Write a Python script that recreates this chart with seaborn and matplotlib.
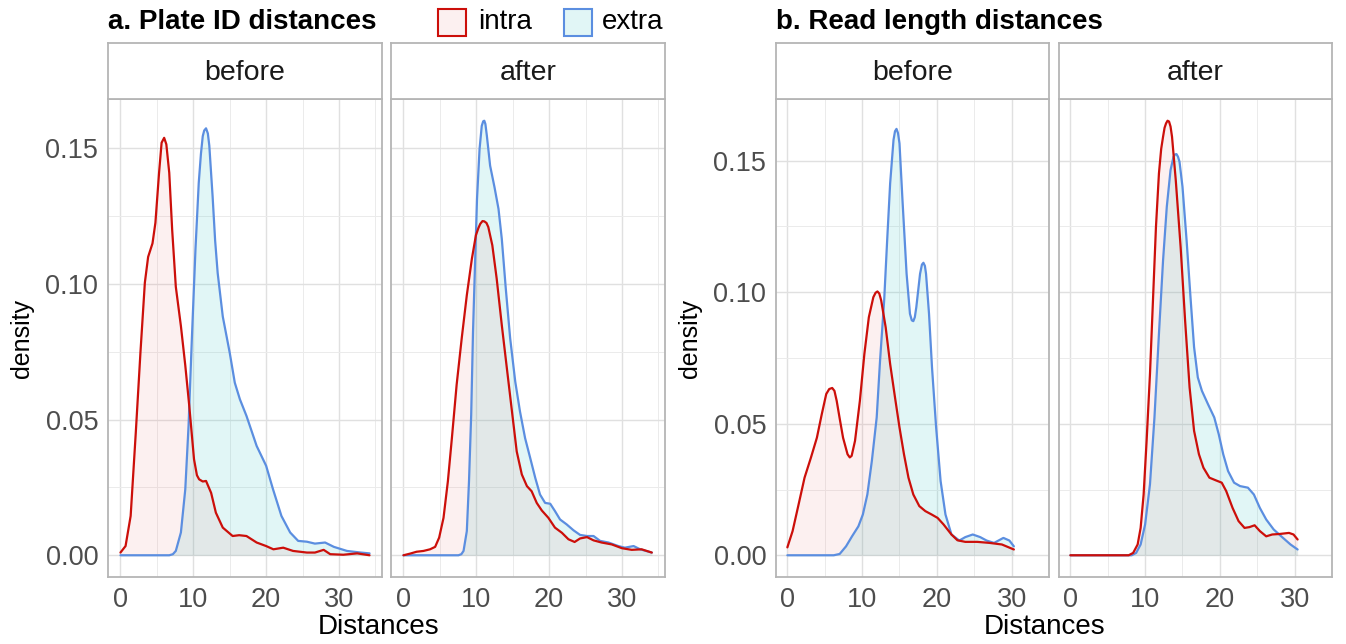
import numpy as np
import pandas as pd
import matplotlib
matplotlib.use("Agg")
import matplotlib.pyplot as plt
from matplotlib.patches import Rectangle
import seaborn as sns

# ---------------- data: kernel density curves of pairwise distances ----------------
# a. Plate ID distances
plate_before_intra_x = [0, 0.7, 1.4, 2.1, 2.75, 3.35, 3.8, 4.1, 4.4, 4.8, 5.3, 5.65, 6.0, 6.3, 6.7, 7.1,
                        7.6, 8.3, 8.9, 9.45, 10.1, 10.5, 10.8, 11.3, 11.75, 12.45, 13.1, 14.05, 15.4, 16.3,
                        17.3, 18.7, 20.0, 21.0, 22.35, 23.7, 25.6, 26.7, 27.9, 28.8, 30.6, 32.5, 34.2]
plate_before_intra_y = [0.001, 0.0034, 0.0145, 0.045, 0.075, 0.1005, 0.110, 0.1125, 0.115, 0.1226, 0.141,
                        0.1521, 0.1539, 0.1515, 0.141, 0.120, 0.099, 0.0845, 0.070, 0.055, 0.0354, 0.0295,
                        0.028, 0.0272, 0.0274, 0.023, 0.0157, 0.0102, 0.0071, 0.0074, 0.0071, 0.0047,
                        0.0034, 0.0022, 0.0028, 0.0016, 0.001, 0.001, 0.002, 0.0004, 0.0002, 0.0007, 0.0]
plate_before_extra_x = [0, 6.7, 7.2, 7.6, 8.3, 8.9, 9.35, 9.8, 10.3, 10.75, 11.05, 11.3, 11.5, 11.75, 12.0,
                        12.2, 12.65, 13.0, 13.35, 14.05, 15.0, 15.7, 16.4, 17.3, 18.7, 20.0, 20.95, 22.1,
                        23.3, 24.4, 25.6, 26.7, 28.1, 29.3, 31.1, 33.0, 34.2]
plate_before_extra_y = [0.0, 0.0, 0.0004, 0.0016, 0.0084, 0.0243, 0.0477, 0.0796, 0.1128, 0.1373, 0.148,
                        0.1545, 0.1566, 0.1574, 0.1555, 0.151, 0.1324, 0.116, 0.104, 0.088, 0.0747, 0.0636,
                        0.0575, 0.0514, 0.0403, 0.033, 0.0243, 0.0145, 0.0084, 0.0053, 0.005, 0.0043,
                        0.0047, 0.0031, 0.0016, 0.001, 0.0007]
plate_after_intra_x = [0, 0.9, 1.8, 2.75, 3.65, 4.35, 4.9, 5.5, 6.1, 6.65, 7.3, 8.0, 8.7, 9.4, 9.95,
                       10.3, 10.55, 10.85, 11.1, 11.4, 11.65, 12.2, 12.8, 13.5, 14.2, 14.9, 15.55, 16.25,
                       16.95, 17.6, 18.3, 19.0, 19.9, 20.8, 21.75, 22.65, 23.5, 24.25, 25.2, 26.1, 27.2,
                       28.6, 30.0, 31.35, 32.7, 34.1]
plate_after_intra_y = [0.0, 0.0006, 0.0013, 0.0016, 0.0022, 0.0031, 0.0065, 0.0138, 0.0273, 0.0432,
                       0.0628, 0.080, 0.0959, 0.1094, 0.118, 0.1207, 0.1222, 0.1232, 0.1231, 0.1225,
                       0.121, 0.1143, 0.102, 0.0849, 0.0689, 0.053, 0.0383, 0.0298, 0.0255, 0.0236,
                       0.0193, 0.0165, 0.0138, 0.0102, 0.0083, 0.0059, 0.0049, 0.0062, 0.0067, 0.0055,
                       0.0047, 0.004, 0.0026, 0.002, 0.0022, 0.001]
plate_after_extra_x = [0, 7.55, 7.95, 8.25, 8.7, 9.0, 9.3, 9.55, 9.85, 10.1, 10.45, 10.75, 10.95, 11.1,
                       11.25, 11.45, 11.9, 12.5, 13.05, 13.5, 14.05, 14.65, 15.35, 16.0, 16.7, 17.4, 18.1,
                       18.75, 19.45, 20.15, 20.8, 21.5, 22.4, 23.35, 24.25, 25.2, 26.1, 27.0, 28.15, 29.5,
                       30.4, 31.6, 32.5, 34.1]
plate_after_extra_y = [0.0, 0.0, 0.0004, 0.0016, 0.0089, 0.0273, 0.0518, 0.0824, 0.1094, 0.1314, 0.1498,
                       0.1583, 0.1600, 0.1602, 0.1590, 0.1547, 0.1436, 0.1357, 0.1277, 0.1167, 0.0983,
                       0.080, 0.064, 0.053, 0.0432, 0.0359, 0.0285, 0.0224, 0.0193, 0.019, 0.0163,
                       0.0132, 0.0114, 0.0092, 0.0075, 0.0071, 0.0071, 0.0053, 0.0047, 0.0034, 0.0028,
                       0.0034, 0.0022, 0.001]

# b. Read length distances
read_before_intra_x = [0, 0.7, 1.5, 2.3, 3.15, 3.95, 4.6, 5.2, 5.6, 6.0, 6.3, 6.6, 7.0, 7.45, 8.05, 8.35,
                       8.6, 9.05, 9.7, 10.3, 10.9, 11.5, 11.8, 12.05, 12.3, 12.55, 13.15, 13.75, 14.4,
                       15.0, 15.6, 16.2, 16.85, 17.65, 18.45, 19.3, 20.1, 20.9, 21.95, 22.75, 23.8, 25.4,
                       27.05, 28.7, 30.3]
read_before_intra_y = [0.003, 0.0092, 0.0193, 0.0295, 0.0371, 0.0447, 0.0536, 0.0613, 0.0632, 0.0636,
                       0.0625, 0.0587, 0.052, 0.0447, 0.0384, 0.0372, 0.0378, 0.0435, 0.0587, 0.0765,
                       0.0905, 0.0981, 0.0998, 0.1003, 0.0995, 0.0969, 0.0867, 0.0727, 0.060, 0.0486,
                       0.0384, 0.0295, 0.0231, 0.0187, 0.0168, 0.0155, 0.0142, 0.0117, 0.0079, 0.0057,
                       0.0051, 0.0051, 0.0047, 0.0041, 0.0022]
read_before_extra_x = [0, 6.2, 7.0, 7.85, 8.65, 9.5, 10.1, 10.7, 11.3, 11.95, 12.4, 12.95, 13.35, 13.75,
                       14.2, 14.4, 14.6, 14.8, 15.0, 15.4, 15.95, 16.4, 16.65, 16.85, 17.05, 17.25, 17.75,
                       18.0, 18.2, 18.4, 18.55, 18.95, 19.35, 19.9, 20.5, 21.15, 21.95, 23.0, 23.8, 24.8,
                       25.8, 26.65, 27.65, 28.9, 29.7, 30.3]
read_before_extra_y = [0.0, 0.0, 0.0005, 0.0034, 0.0072, 0.011, 0.0155, 0.0231, 0.0358, 0.0524, 0.074,
                       0.0969, 0.1197, 0.1414, 0.1579, 0.1612, 0.1621, 0.1605, 0.1566, 0.135, 0.107,
                       0.0918, 0.0893, 0.089, 0.0905, 0.0943, 0.107, 0.1105, 0.1112, 0.1100, 0.107,
                       0.0918, 0.0714, 0.0486, 0.0282, 0.0155, 0.0079, 0.0056, 0.0069, 0.0079, 0.0069,
                       0.0056, 0.0047, 0.0066, 0.0056, 0.0034]
read_after_intra_x = [0, 7.8, 8.4, 9.0, 9.4, 9.8, 10.2, 10.65, 11.05, 11.45, 11.85, 12.15, 12.4, 12.6,
                      12.8, 13.0, 13.2, 13.4, 13.6, 14.1, 14.75, 15.35, 15.95, 16.55, 17.2, 17.8, 18.6,
                      19.45, 20.25, 20.85, 21.7, 22.5, 23.3, 23.95, 24.65, 25.35, 26.2, 27.0, 28.0, 29.25,
                      29.85, 30.4]
read_after_intra_y = [0.0, 0.0, 0.0009, 0.0041, 0.0104, 0.0231, 0.0435, 0.0689, 0.0969, 0.1248, 0.1452,
                      0.1545, 0.1591, 0.1625, 0.1642, 0.1652, 0.1649, 0.1630, 0.1591, 0.1426, 0.1172,
                      0.0892, 0.0638, 0.0473, 0.0384, 0.0333, 0.0295, 0.0285, 0.0276, 0.0244, 0.018,
                      0.013, 0.0104, 0.0107, 0.0114, 0.0092, 0.0072, 0.0079, 0.0081, 0.0085, 0.0079,
                      0.006]
read_after_extra_x = [0, 8.2, 8.8, 9.4, 10.0, 10.65, 11.25, 11.85, 12.4, 12.9, 13.4, 13.8, 14.0, 14.2,
                      14.4, 14.6, 15.0, 15.55, 16.1, 16.55, 17.05, 17.6, 18.4, 19.25, 19.85, 20.45, 21.1,
                      21.9, 22.7, 23.75, 24.55, 25.35, 26.2, 27.2, 28.45, 29.45, 30.4]
read_after_extra_y = [0.0, 0.0, 0.0009, 0.0041, 0.0117, 0.027, 0.0524, 0.0842, 0.1121, 0.1325, 0.1464,
                      0.1515, 0.1524, 0.1525, 0.1515, 0.1496, 0.1401, 0.1197, 0.0969, 0.0791, 0.0676,
                      0.0625, 0.0575, 0.0524, 0.046, 0.0384, 0.032, 0.0276, 0.0263, 0.0257, 0.0231,
                      0.018, 0.0136, 0.0098, 0.0066, 0.0041, 0.0022]

stages = ["before", "after"]
types = ["intra", "extra"]
group_titles = {"plate": "a. Plate ID distances", "read": "b. Read length distances"}

curves = {
    ("plate", "before", "intra"): (plate_before_intra_x, plate_before_intra_y),
    ("plate", "before", "extra"): (plate_before_extra_x, plate_before_extra_y),
    ("plate", "after", "intra"): (plate_after_intra_x, plate_after_intra_y),
    ("plate", "after", "extra"): (plate_after_extra_x, plate_after_extra_y),
    ("read", "before", "intra"): (read_before_intra_x, read_before_intra_y),
    ("read", "before", "extra"): (read_before_extra_x, read_before_extra_y),
    ("read", "after", "intra"): (read_after_intra_x, read_after_intra_y),
    ("read", "after", "extra"): (read_after_extra_x, read_after_extra_y),
}

rows = []
for (grp, stage, typ), (xs, ys) in curves.items():
    for xv, yv in zip(xs, ys):
        rows.append({"group": grp, "stage": stage, "type": typ, "Distances": xv, "density": yv})
df = pd.DataFrame(rows)

# ---------------- styling ----------------
sns.set_theme(style="white")
plt.rcParams["font.family"] = ["Liberation Sans", "DejaVu Sans"]

line_colors = {"intra": "#CC0F0A", "extra": "#5B8EE0"}
fill_colors = {"intra": (235 / 255, 115 / 255, 115 / 255, 0.10),
               "extra": (55 / 255, 201 / 255, 201 / 255, 0.15)}
border_gray = "#B5B5B5"
major_grid = "#E0E0E0"
minor_grid = "#EBEBEB"
tick_text = "#4D4D4D"

W, H = 1346, 644
fig = plt.figure(figsize=(W / 100, H / 100), dpi=100)


def frac_box(left, right, top, bottom):
    return [left / W, 1 - bottom / H, (right - left) / W, (bottom - top) / H]


panel_px = {
    ("plate", "before"): (108, 382),
    ("plate", "after"): (391, 665),
    ("read", "before"): (776, 1049),
    ("read", "after"): (1059, 1332),
}
panel_top, panel_bottom, strip_top = 99, 577, 43


def expanded(lo, hi, mult=0.05):
    span = hi - lo
    return lo - span * mult, hi + span * mult


for grp in ["plate", "read"]:
    gdf = df[df.group == grp]
    xlim = expanded(gdf.Distances.min(), gdf.Distances.max())
    ylim = expanded(0.0, gdf.density.max())
    for stage in stages:
        left, right = panel_px[(grp, stage)]
        ax = fig.add_axes(frac_box(left, right, panel_top, panel_bottom))
        sub = gdf[gdf.stage == stage]

        # shaded areas under each curve
        for typ in ["extra", "intra"]:
            c = sub[sub.type == typ]
            ax.fill_between(c.Distances, 0, c.density, color=fill_colors[typ], lw=0, zorder=2)
        for typ in ["extra", "intra"]:
            sns.lineplot(data=sub[sub.type == typ], x="Distances", y="density", color=line_colors[typ],
                         estimator=None, sort=False, lw=1.6, ax=ax, legend=False, zorder=3)

        ax.set_xlim(*xlim)
        ax.set_ylim(*ylim)
        ax.set_xticks([0, 10, 20, 30])
        ax.set_xticks([5, 15, 25, 35], minor=True)
        ax.set_yticks([0.0, 0.05, 0.10, 0.15])
        ax.set_yticks([0.025, 0.075, 0.125], minor=True)
        ax.grid(True, which="major", color=major_grid, lw=1.0, zorder=0)
        ax.grid(True, which="minor", color=minor_grid, lw=0.7, zorder=0)
        ax.set_axisbelow(True)
        for sp in ax.spines.values():
            sp.set_color(border_gray)
            sp.set_linewidth(1.3)
        ax.tick_params(axis="both", which="major", length=4, width=1.0, color=border_gray,
                       labelsize=19.5, labelcolor=tick_text, pad=3)
        ax.tick_params(axis="both", which="minor", length=0)
        ax.set_xlabel("")
        ax.set_ylabel("")
        ax.xaxis.set_major_formatter(matplotlib.ticker.FuncFormatter(lambda v, p: f"{v:.0f}"))
        if stage == "before":
            ax.yaxis.set_major_formatter(matplotlib.ticker.FuncFormatter(lambda v, p: f"{v:.2f}"))
        else:
            ax.tick_params(axis="y", which="major", length=0, labelleft=False)

        # facet strip
        sax = fig.add_axes(frac_box(left, right, strip_top, panel_top))
        sax.set_xticks([])
        sax.set_yticks([])
        sax.set_facecolor("white")
        for sp in sax.spines.values():
            sp.set_color(border_gray)
            sp.set_linewidth(1.3)
        sax.text(0.5, 0.47, stage, ha="center", va="center", fontsize=20.5, color="#1A1A1A",
                 transform=sax.transAxes)

# axis titles
fig.text(22 / W, 1 - 338 / H, "density", rotation=90, ha="center", va="center", fontsize=18, color="black")
fig.text(690 / W, 1 - 338 / H, "density", rotation=90, ha="center", va="center", fontsize=18, color="black")
fig.text(379 / W, 1 - 627 / H, "Distances", ha="center", va="center", fontsize=20, color="black")
fig.text(1045 / W, 1 - 627 / H, "Distances", ha="center", va="center", fontsize=20, color="black")

# group titles
fig.text(108 / W, 1 - 22 / H, group_titles["plate"], ha="left", va="center", fontsize=20,
         fontweight="bold", color="black")
fig.text(776 / W, 1 - 22 / H, group_titles["read"], ha="left", va="center", fontsize=20,
         fontweight="bold", color="black")

# legend keys
key_px = {"intra": (438, 478), "extra": (564, 602)}
for typ in types:
    kx, tx = key_px[typ]
    fig.patches.append(Rectangle((kx / W, 1 - 36 / H), 28 / W, 27 / H, transform=fig.transFigure,
                                 facecolor=fill_colors[typ], edgecolor=line_colors[typ], lw=1.5))
    fig.text(tx / W, 1 - 22 / H, typ, ha="left", va="center", fontsize=20, color="black")

fig.savefig("out.png", dpi=100, facecolor="white")
